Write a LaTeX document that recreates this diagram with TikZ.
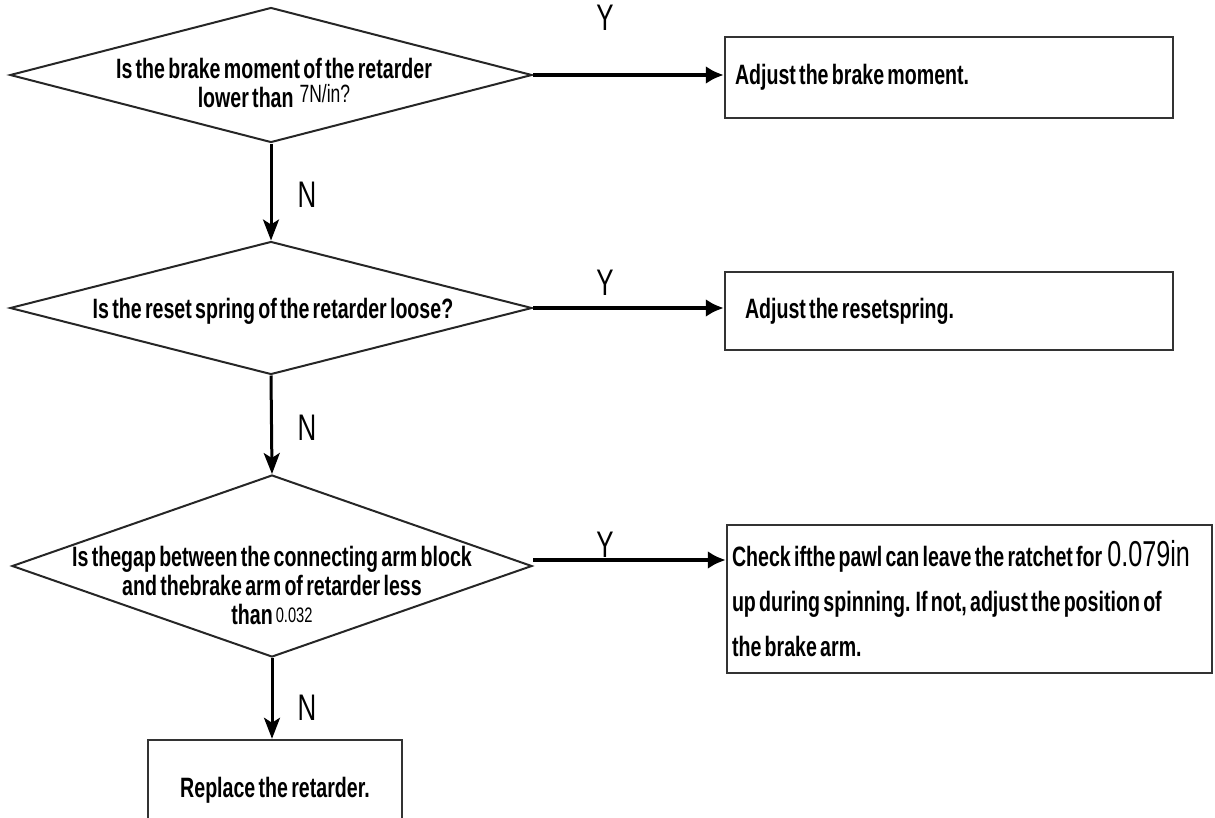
\documentclass[tikz,border=0pt]{standalone}
\usepackage{fontspec}
\setmainfont{Liberation Sans}[FakeStretch=0.7,WordSpace=0.6]
\usetikzlibrary{arrows.meta,shapes.geometric}

\newcommand{\seven}{\hspace{6pt}\raisebox{5pt}{\mdseries\fontsize{25}{25}\selectfont 7N/in?}}
\newcommand{\gap}{\hspace{3pt}\raisebox{2pt}{\mdseries\fontsize{21}{21}\selectfont 0.032}}
\newcommand{\lift}{\hspace{5pt}{\mdseries\fontsize{36}{36}\selectfont 0.079in}}

\tikzset{
dec/.style={shape=diamond,draw=black!85,line width=2pt,minimum width=522pt,inner sep=0pt},
act/.style={draw=black!80,line width=2.5pt,inner sep=0pt,align=flush left,font=\bfseries\fontsize{28}{45}\selectfont},
qtext/.style={align=center,font=\bfseries\fontsize{28}{29}\selectfont},
flowy/.style={line width=4.5pt,-{Latex[length=18pt,width=18pt]}},
flown/.style={line width=3pt,-{Stealth[length=21pt,width=16pt,inset=5pt]}},
yn/.style={font=\fontsize{37}{37}\selectfont}
}

\begin{document}
\begin{tikzpicture}[x=1pt,y=-1pt]
\useasboundingbox (0,0) rectangle (1215,817);

% decisions
\node[dec,minimum height=135pt] (q1) at (271,75) {};
\node[dec,minimum height=133pt] (q2) at (271,308) {};
\node[dec,minimum height=182pt,minimum width=520pt] (q3) at (272,566) {};

\node[qtext] (q1t) at (274,83) {Is the brake moment of the retarder\\lower than\seven};
\node[qtext] (q2t) at (273,311) {Is the reset spring of the retarder loose?};
\node[qtext] (q3t) at (272,585) {Is thegap between the connecting arm block\\and thebrake arm of retarder less\\than\gap};

% actions
\node[act,minimum width=448pt,minimum height=81pt,text width=428pt] (a1) at (949,77.5) {Adjust the brake moment.};
\node[act,minimum width=448pt,minimum height=78pt,text width=408pt] (a2) at (949,311) {Adjust the resetspring.};
\node[act,minimum width=485pt,minimum height=148pt,text width=475pt] (a3) at (969.5,599)
{Check ifthe pawl can leave the ratchet for\lift\\up during spinning. If not, adjust the position of\\the brake arm.};
\node[act,align=center,minimum width=254pt,minimum height=100pt] (a4) at (275,790) {Replace the retarder.};

% arrows
\draw[flowy] (q1.east) -- (q1.east -| a1.west);
\draw[flowy] (q2.east) -- (q2.east -| a2.west);
\draw[flowy] ([yshift=6pt]q3.east) -- ([yshift=6pt]q3.east -| a3.west);
\draw[flown] (q1.south) -- (q2.north);
\draw[flown] (q2.south) -- (q3.north);
\draw[flown] (q3.south) -- (q3.south |- a4.north);

\node[yn] (y1) at (605,18) {Y};
\node[yn] (y2) at (605,283) {Y};
\node[yn] (y3) at (605,545) {Y};
\node[yn] (n1) at (307,195) {N};
\node[yn] (n2) at (307,428) {N};
\node[yn] (n3) at (307,708) {N};
\end{tikzpicture}
\end{document}
